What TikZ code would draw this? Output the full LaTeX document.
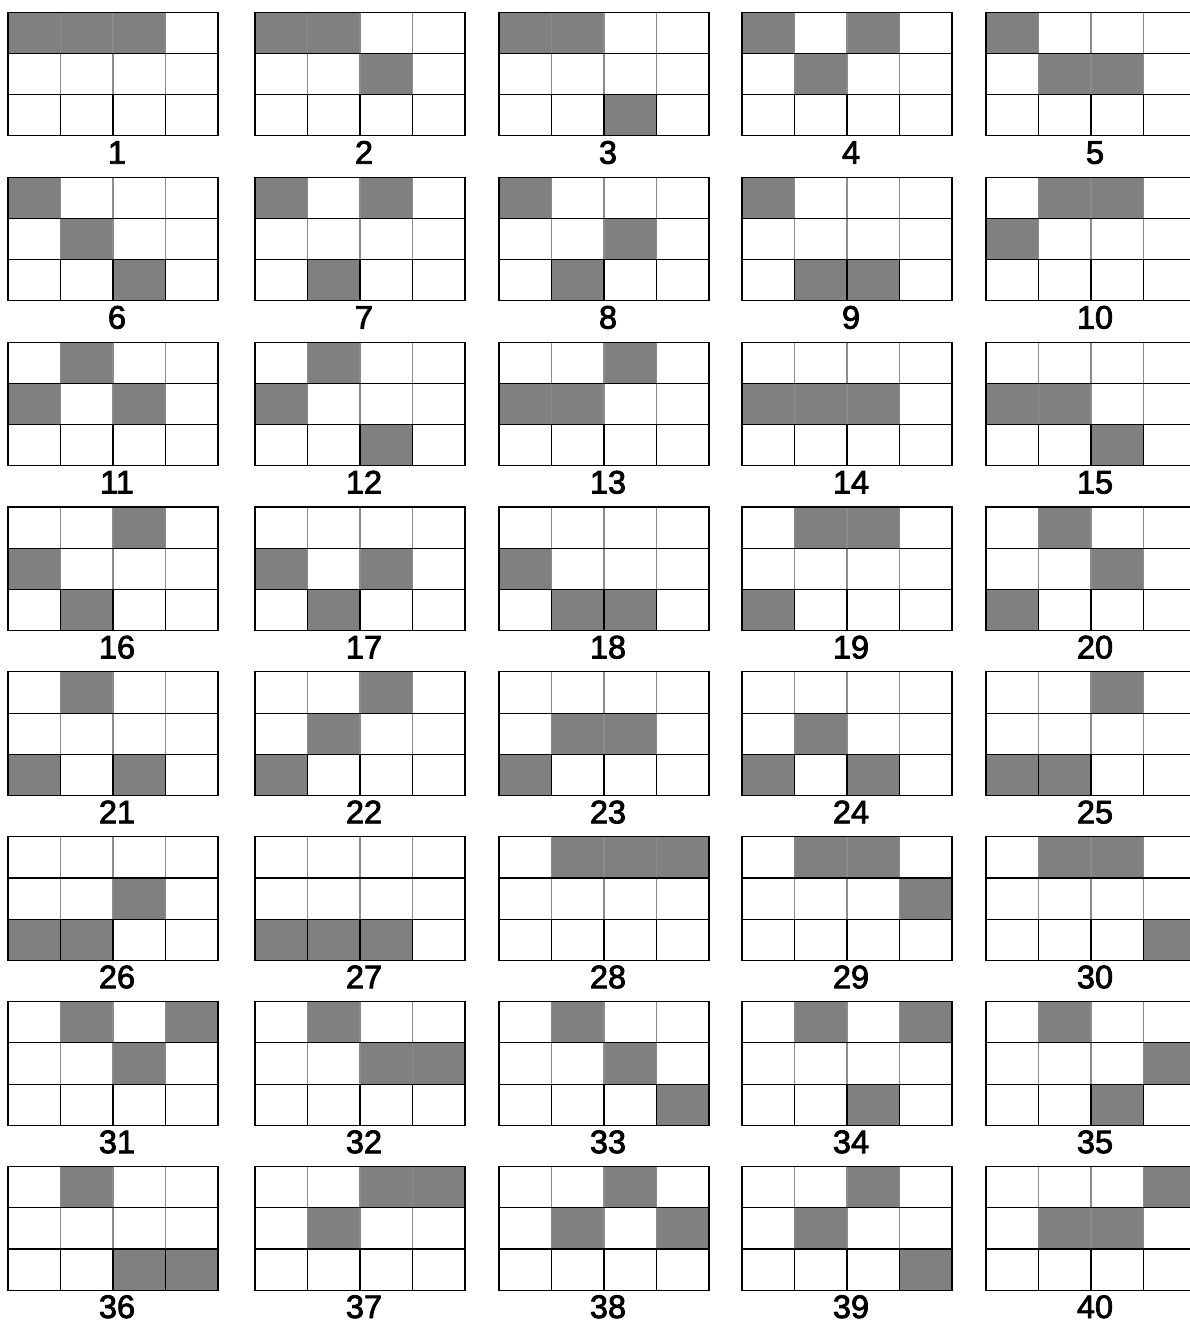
\documentclass[tikz,border=0pt]{standalone}
\usepackage{fontspec}
\setmainfont{Liberation Sans}
\newfontfamily\labfont[FakeBold=2.5]{Liberation Sans}
\definecolor{cellgray}{RGB}{128,128,128}
\definecolor{softline}{RGB}{140,140,140}
\begin{document}
\begin{tikzpicture}[x=1pt,y=-1pt,
  gridline/.style={line width=1.1pt,black},
  softgrid/.style={line width=1.1pt,softline},
  lab/.style={font=\labfont\fontsize{32.5}{38}\selectfont, anchor=base, inner sep=0pt}]
\useasboundingbox[fill=white] (0,0) rectangle (1190,1322);
\def\cw{52.5}\def\ch{41.2}
\foreach \n/\a/\b/\c/\d in {
 1/1/1/1/0, 2/1/1/2/0, 3/1/1/3/0, 4/1/2/1/0, 5/1/2/2/0,
 6/1/2/3/0, 7/1/3/1/0, 8/1/3/2/0, 9/1/3/3/0, 10/2/1/1/0,
 11/2/1/2/0, 12/2/1/3/0, 13/2/2/1/0, 14/2/2/2/0, 15/2/2/3/0,
 16/2/3/1/0, 17/2/3/2/0, 18/2/3/3/0, 19/3/1/1/0, 20/3/1/2/0,
 21/3/1/3/0, 22/3/2/1/0, 23/3/2/2/0, 24/3/2/3/0, 25/3/3/1/0,
 26/3/3/2/0, 27/3/3/3/0, 28/0/1/1/1, 29/0/1/1/2, 30/0/1/1/3,
 31/0/1/2/1, 32/0/1/2/2, 33/0/1/2/3, 34/0/1/3/1, 35/0/1/3/2,
 36/0/1/3/3, 37/0/2/1/1, 38/0/2/1/2, 39/0/2/1/3, 40/0/2/2/1}{
  \pgfmathtruncatemacro{\ri}{int((\n-1)/5)}
  \pgfmathtruncatemacro{\ci}{mod(\n-1,5)}
  \pgfmathsetmacro{\xo}{{8,255,499,742,986}[\ci]}
  \pgfmathsetmacro{\yo}{12.3+164.9*\ri}
  \begin{scope}[shift={(\xo,\yo)}]
    \ifnum\a>0 \fill[cellgray] (0,{(\a-1)*\ch}) rectangle ++(\cw,\ch); \fi
    \ifnum\b>0 \fill[cellgray] (\cw,{(\b-1)*\ch}) rectangle ++(\cw,\ch); \fi
    \ifnum\c>0 \fill[cellgray] ({2*\cw},{(\c-1)*\ch}) rectangle ++(\cw,\ch); \fi
    \ifnum\d>0 \fill[cellgray] ({3*\cw},{(\d-1)*\ch}) rectangle ++(\cw,\ch); \fi
    \foreach \k in {1,2,3} {
      \draw[softgrid] ({\k*\cw},0) -- ({\k*\cw},{2*\ch});
      \draw[gridline] ({\k*\cw},{2*\ch}) -- ({\k*\cw},{3*\ch});
    }
    \foreach \k in {1,2} \draw[gridline] (0,{\k*\ch}) -- ({4*\cw},{\k*\ch});
    \draw[gridline] (0,0) rectangle ({4*\cw},{3*\ch});
    \node[lab] (lbl\n) at ({2*\cw+4},{3*\ch+27.8}) {\n};
  \end{scope}
}
\end{tikzpicture}
\end{document}
